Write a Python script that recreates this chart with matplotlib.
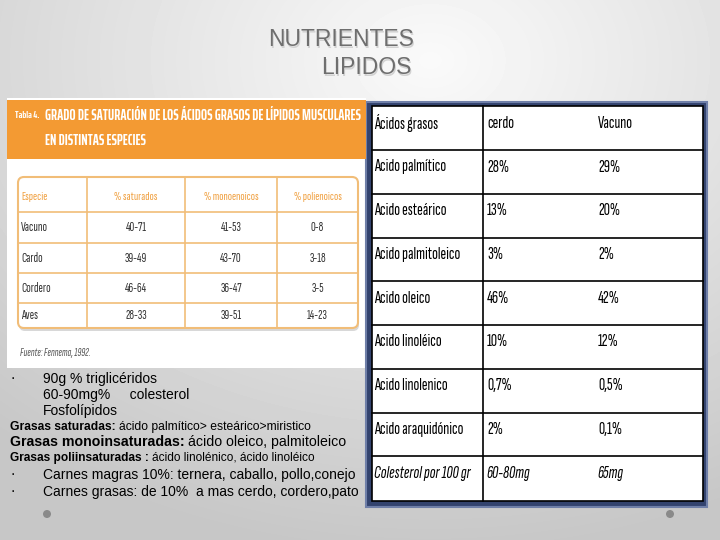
import numpy as np
import matplotlib.pyplot as plt
from matplotlib.patches import Rectangle, FancyBboxPatch, Circle

# Tabla 4 (izquierda)
especies = ['Vacuno', 'Cardo', 'Cordero', 'Aves']
saturados = ['40-71', '39-49', '46-64', '28-33']
monoenoicos = ['41-53', '43-70', '36-47', '39-51']
polienoicos = ['0-8', '3-18', '3-5', '14-23']
cab_izq = ['Especie', '% saturados', '% monoenoicos', '% polienoicos']

# Tabla derecha
cab_der = ['Ácidos grasos', 'cerdo', 'Vacuno']
acidos = ['Acido palmítico', 'Acido esteárico', 'Acido palmitoleico', 'Acido oleico',
          'Acido linoléico', 'Acido linolenico', 'Acido araquidónico', 'Colesterol por 100 gr']
cerdo = ['28%', '13%', '3%', '46%', '10%', '0,7%', '2%', '60-80mg']
vacuno = ['29%', '20%', '2%', '42%', '12%', '0,5%', '0,1%', '65mg']

COND = ['Sofia Sans Extra Condensed', 'DejaVu Sans']
BOLDC = ['Saira ExtraCondensed', 'DejaVu Sans']
ARIAL = ['Liberation Sans', 'DejaVu Sans']

fig = plt.figure(figsize=(7.2, 5.4), dpi=100)
ax = fig.add_axes([0, 0, 1, 1])
ax.set_xlim(0, 720)
ax.set_ylim(540, 0)
ax.axis('off')

# fondo degradado gris
yy, xx = np.mgrid[0:540, 0:720]
d = np.sqrt(((xx - 430) / 720.0) ** 2 + ((yy - 60) / 540.0) ** 2)
bg = np.clip(0.98 - 0.22 * d, 0.78, 0.98)
ax.imshow(bg, cmap='gray', vmin=0, vmax=1, extent=[0, 720, 540, 0], zorder=0)

# titulo
for dx, col in [(1.5, '#d2d2d2'), (0, '#6e6e6e')]:
    ax.text(341 + dx, 40 + dx, 'NUTRIENTES', ha='center', va='center', fontsize=16.5,
            color=col, family=ARIAL, zorder=5)
    ax.text(366 + dx, 68 + dx, 'LIPIDOS', ha='center', va='center', fontsize=16.5,
            color=col, family=ARIAL, zorder=5)

# ---- tabla izquierda (imagen) ----
ax.add_patch(Rectangle((7, 98), 359, 270, facecolor='white', edgecolor='none', zorder=1))
ax.add_patch(Rectangle((7, 100), 359, 59, facecolor='#f39a33', edgecolor='none', zorder=2))
ax.text(15, 116, 'Tabla 4.', ha='left', va='center', fontsize=7.2, color='white',
        weight='bold', family=BOLDC, zorder=3)
ax.text(45, 116, 'GRADO DE SATURACIÓN DE LOS ÁCIDOS GRASOS DE LÍPIDOS MUSCULARES',
        ha='left', va='center', fontsize=10.5, color='white', weight='bold', family=BOLDC, zorder=3)
ax.text(45, 141, 'EN DISTINTAS ESPECIES', ha='left', va='center', fontsize=10.5,
        color='white', weight='bold', family=BOLDC, zorder=3)

ax.add_patch(FancyBboxPatch((19, 180), 340, 151, boxstyle='round,pad=0,rounding_size=6',
                            facecolor='#d8d8d8', edgecolor='none', zorder=2))
ax.add_patch(FancyBboxPatch((18, 177), 340, 151, boxstyle='round,pad=0,rounding_size=6',
                            facecolor='white', edgecolor='#f1bd78', lw=1.5, zorder=3))
col_x = [18, 87, 185, 277, 358]
row_y = [177, 212, 243, 273, 303, 328]
for x in col_x[1:-1]:
    ax.plot([x, x], [row_y[0], row_y[-1]], color='#f1bd78', lw=1.2, zorder=4)
for y in row_y[1:-1]:
    ax.plot([col_x[0], col_x[-1]], [y, y], color='#f1bd78', lw=1.2, zorder=4)

for j, h in enumerate(cab_izq):
    yc = (row_y[0] + row_y[1]) / 2 + 2
    if j == 0:
        ax.text(21, yc, h, ha='left', va='center', fontsize=9, color='#f0a040',
                family=COND, zorder=5)
    else:
        ax.text((col_x[j] + col_x[j + 1]) / 2, yc, h, ha='center', va='center',
                fontsize=9, color='#f0a040', family=COND, zorder=5)

for i in range(len(especies)):
    yc = (row_y[i + 1] + row_y[i + 2]) / 2
    ax.text(21, yc, especies[i], ha='left', va='center', fontsize=9.5, color='#333333',
            family=COND, zorder=5)
    for j, vals in enumerate([saturados, monoenoicos, polienoicos]):
        ax.text((col_x[j + 1] + col_x[j + 2]) / 2, yc, vals[i], ha='center', va='center',
                fontsize=9.5, color='#333333', family=COND, zorder=5)

ax.text(20, 353, 'Fuente: Fennema, 1992.', ha='left', va='center', fontsize=8,
        color='#555555', style='italic', family=COND, zorder=5)

# ---- tabla derecha ----
ax.add_patch(Rectangle((366, 102), 341, 405, facecolor='#33436e', edgecolor='#6f7fa8',
                       lw=1.5, zorder=1))
ax.add_patch(Rectangle((372, 106), 331, 395, facecolor='white', edgecolor='black',
                       lw=1.2, zorder=2))
lineas = np.linspace(150, 500, len(acidos) + 1)
for y in lineas[:-1]:
    ax.plot([372, 703], [y, y], color='black', lw=1.2, zorder=3)
ax.plot([483, 483], [106, 501], color='black', lw=1.2, zorder=3)

FS = 12.5
ax.text(374, 123, cab_der[0], ha='left', va='center', fontsize=FS, color='black',
        family=COND, zorder=5)
ax.text(487, 123, cab_der[1], ha='left', va='center', fontsize=FS, color='black',
        family=COND, zorder=5)
ax.text(598, 123, cab_der[2], ha='left', va='center', fontsize=FS, color='black',
        family=COND, zorder=5)
for i in range(len(acidos)):
    yc = lineas[i] + 17
    st = 'italic' if i == len(acidos) - 1 else 'normal'
    ax.text(374, yc, acidos[i], ha='left', va='center', fontsize=FS, color='black',
            family=COND, style=st, zorder=5)
    ax.text(487, yc, cerdo[i], ha='left', va='center', fontsize=FS, color='black',
            family=COND, style=st, zorder=5)
    ax.text(598, yc, vacuno[i], ha='left', va='center', fontsize=FS, color='black',
            family=COND, style=st, zorder=5)

# ---- texto inferior ----
ax.text(10, 379, '·', ha='left', va='center', fontsize=10, color='black', zorder=5)
ax.text(43, 379, '90g % triglicéridos', ha='left', va='center', fontsize=10, family=ARIAL)
ax.text(43, 395, '60-90mg%     colesterol', ha='left', va='center', fontsize=10, family=ARIAL)
ax.text(43, 411, 'Fosfolípidos', ha='left', va='center', fontsize=10, family=ARIAL)

t = ax.text(10, 427, 'Grasas saturadas: ', ha='left', va='center', fontsize=8.7,
            weight='bold', family=ARIAL)
ax.annotate('ácido palmítico> esteárico>miristico', xycoords=t, xy=(1, 0.5), va='center',
            ha='left', fontsize=8.7, family=ARIAL)
t = ax.text(10, 442, 'Grasas monoinsaturadas: ', ha='left', va='center', fontsize=10.2,
            weight='bold', family=ARIAL)
ax.annotate('ácido oleico, palmitoleico', xycoords=t, xy=(1, 0.5), va='center',
            ha='left', fontsize=10.2, family=ARIAL)
t = ax.text(10, 458, 'Grasas poliinsaturadas : ', ha='left', va='center', fontsize=8.6,
            weight='bold', family=ARIAL)
ax.annotate('ácido linolénico, ácido linoléico', xycoords=t, xy=(1, 0.5), va='center',
            ha='left', fontsize=8.6, family=ARIAL)

ax.text(10, 475, '·', ha='left', va='center', fontsize=10, color='black')
ax.text(43, 475, 'Carnes magras 10%: ternera, caballo, pollo,conejo', ha='left',
        va='center', fontsize=10, family=ARIAL)
ax.text(10, 492, '·', ha='left', va='center', fontsize=10, color='black')
ax.text(43, 492, 'Carnes grasas: de 10%  a mas cerdo, cordero,pato', ha='left',
        va='center', fontsize=10, family=ARIAL)

ax.add_patch(Circle((47, 514), 4, facecolor='#8a8a8a', edgecolor='none', zorder=5))
ax.add_patch(Circle((670, 514), 4, facecolor='#8a8a8a', edgecolor='none', zorder=5))

plt.savefig('out.png', dpi=100)
